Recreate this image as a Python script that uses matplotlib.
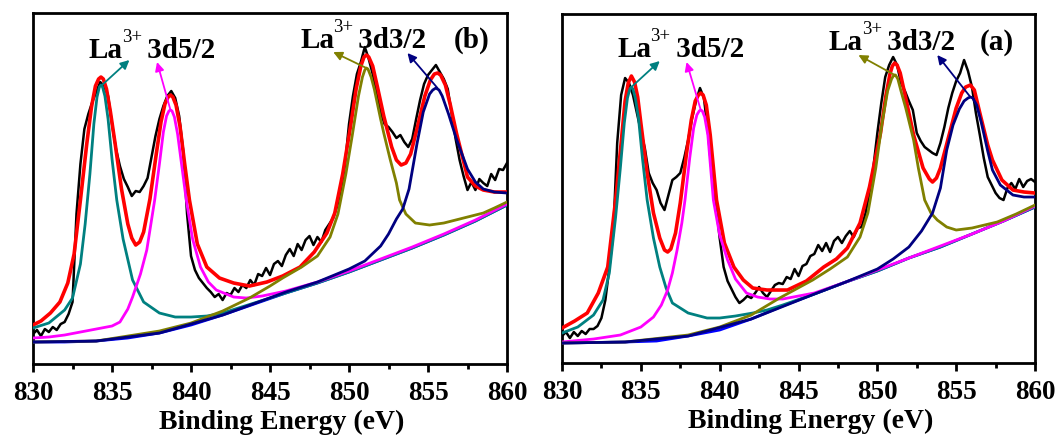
import numpy as np
import matplotlib
matplotlib.use('Agg')
import matplotlib.pyplot as plt
from matplotlib.ticker import MultipleLocator

plt.rcParams['font.family'] = 'Liberation Serif'

# measured spectrum is sampled every 0.25 eV
energy_grid = np.arange(830, 860.01, 0.25)

# ---------------- panel (b) ----------------
b_raw = [30, 34, 28, 35,  32, 37, 34, 40,  42, 50, 62, 150,  200, 235, 250, 262,
         272, 282, 278, 268,  240, 215, 198, 185,  177, 168, 173, 172,  178, 186, 207, 228,
         245, 258, 268, 273,  266, 248, 214, 150,  108, 94, 86, 81,  76, 72, 67, 70,
         64, 71, 69, 76,  72, 79, 76, 84,  79, 90, 88, 96,  89, 100, 103, 98,
         109, 115, 108, 120,  114, 124, 128, 119,  127, 122, 134, 140,  146, 158, 175, 200,
         240, 268, 290, 302,  317, 305, 290, 270,  252, 240, 237, 232,  226, 229, 222, 217,
         225, 245, 264, 280,  289, 294, 299, 292,  285, 275, 250, 225,  204, 188, 174, 182,
         174, 185, 181, 178,  190, 184, 195, 194,  201]

b_fit_x = [830, 830.5, 831.1, 831.7, 832.2, 832.6, 833.0, 833.4, 833.7, 833.95, 834.15, 834.3,
           834.45, 834.65, 834.9, 835.2, 835.6, 836.0, 836.25, 836.5, 836.75, 837.0, 837.4, 837.8,
           838.1, 838.35, 838.55, 838.7, 838.85, 839.05, 839.3, 839.6, 839.9, 840.4, 841.0, 841.8,
           842.7, 843.7, 844.8, 845.8, 846.9, 847.8, 848.6, 849.1, 849.6, 850.1, 850.45, 850.75,
           850.95, 851.1, 851.25, 851.5, 851.8, 852.2, 852.7, 853.0, 853.3, 853.6, 853.9, 854.3,
           854.8, 855.15, 855.4, 855.6, 855.8, 856.1, 856.4, 856.8, 857.5, 858.0, 858.5, 859.2, 860]
b_fit_y = [39, 43, 51, 62, 81, 110, 164, 220, 257, 278, 285, 287,
           285, 275, 252, 220, 175, 140, 126, 119, 122, 132, 165, 210,
           242, 260, 267, 269, 267, 259, 238, 200, 164, 120, 97, 86,
           81, 78, 82, 88, 97, 112, 131, 151, 190, 238, 275, 298,
           307, 309, 307, 298, 277, 248, 217, 204, 199, 201, 210, 235,
           268, 284, 290, 291, 289, 279, 260, 231, 187, 178, 174, 172, 172]

b_bg_x = [830, 832, 834, 836, 838, 840, 842, 844, 846, 848, 850, 852, 854, 856, 858, 860]
b_bg_y = [22, 22, 23, 26, 31, 39, 49, 60, 71, 81, 92, 104, 116, 129, 143, 159]

b_p1_x = [830, 831, 832, 832.5, 833, 833.3, 833.6, 833.85, 834.05, 834.2, 834.3, 834.4, 834.55,
          834.75, 835.0, 835.3, 835.7, 836.3, 837.0, 838.0, 839.0, 840.0, 841.0, 842.0, 843.0,
          844.0, 846, 848, 850, 852, 854, 856, 858, 860]
b_p1_y = [36, 41, 54, 66, 100, 140, 190, 240, 267, 277, 279, 277, 268,
          245, 205, 164, 125, 84, 62, 51, 47, 47, 48, 51, 56,
          61, 71, 81, 92, 104, 116, 129, 143, 159]

b_p2_x = [830, 831, 832, 833, 834, 835, 835.5, 836.0, 836.3, 836.8, 837.2, 837.7, 838.0, 838.25,
          838.45, 838.6, 838.7, 838.8, 838.95, 839.15, 839.4, 839.7, 840.1, 840.6, 841.1, 841.6,
          842.7, 843.5, 844.5, 846, 848, 850, 852, 854, 856, 858, 860]
b_p2_y = [26, 27, 29, 32, 35, 38, 42, 55, 67, 90, 114, 164, 200, 232,
          248, 253, 254, 253, 247, 230, 200, 164, 125, 97, 82, 74,
          67, 66, 68, 73, 82, 93, 105, 117, 130, 144, 160]

b_p3_x = [830, 834, 838, 840, 842, 843.7, 845, 845.8, 847, 848, 848.8, 849.3, 849.8, 850.2,
          850.6, 850.85, 851.0, 851.1, 851.2, 851.4, 851.6, 852.0, 852.2, 852.6, 853.0, 853.2,
          853.6, 854.2, 855.1, 856, 857, 858.5, 859.2, 860]
b_p3_y = [22, 23, 33, 41, 53, 66, 78, 86, 97, 108, 127, 150, 190, 228,
          268, 287, 294, 296, 295, 287, 275, 245, 231, 205, 181, 164,
          150, 141, 139, 141, 145, 151, 156, 162]

b_p4_x = [830, 834, 838, 842, 846, 848, 850, 851, 852, 852.5, 853.0, 853.4, 853.8, 854.3,
          854.7, 855.1, 855.3, 855.5, 855.7, 855.9, 856.3, 856.8, 857.5, 858.0, 858.5, 859.2, 860]
b_p4_y = [22, 23, 31, 49, 72, 82, 95, 103, 118, 130, 145, 155, 175, 220,
          252, 270, 274, 276, 274, 268, 250, 225, 195, 182, 175, 172, 171]

# ---------------- panel (a) ----------------
a_raw = [27, 31, 25, 31,  27, 32, 29, 34,  34, 37, 45, 63,  95, 130, 220, 268,
         285, 280, 268, 250,  232, 215, 190, 180,  173, 160, 153, 168,  183, 186, 190, 205,
         223, 245, 262, 275,  265, 232, 190, 160,  125, 96, 82, 74,  66, 60, 63, 67,
         65, 70, 76, 70,  66, 72, 78, 80,  79, 86, 84, 94,  87, 97, 99, 107,
         109, 118, 112, 120,  111, 122, 126, 120,  127, 132, 126, 135,  136, 150, 170, 196,
         230, 260, 286, 298,  306, 298, 280, 272,  262, 253, 230, 222,  216, 213, 210, 208,
         220, 236, 255, 270,  282, 290, 303, 292,  276, 250, 228, 205,  186, 178, 170, 165,
         163, 175, 180, 174,  184, 176, 182, 184,  181]

a_fit_x = [830, 830.8, 831.6, 832.3, 832.9, 833.4, 833.75, 834.0, 834.2, 834.4, 834.6, 834.8,
           835.0, 835.4, 835.8, 836.2, 836.5, 836.7, 836.9, 837.2, 837.5, 837.9, 838.2, 838.45,
           838.65, 838.8, 838.95, 839.15, 839.4, 839.8, 840.3, 840.9, 841.5, 842.1, 843.0, 844.3,
           845.5, 846.6, 847.4, 848.1, 848.9, 849.5, 850.2, 850.55, 850.8, 850.95, 851.1, 851.25,
           851.45, 851.8, 852.3, 852.9, 853.3, 853.5, 853.75, 854.0, 854.5, 855.0, 855.35, 855.6,
           855.9, 856.15, 856.5, 857.0, 857.3, 857.9, 858.6, 859.3, 860]
a_fit_y = [35, 42, 50, 70, 96, 163, 220, 262, 280, 287, 281, 266,
           240, 190, 150, 125, 113, 111, 114, 130, 160, 210, 243, 262,
           268, 270, 268, 258, 228, 163, 120, 96, 83, 75, 73, 73,
           82, 96, 104, 115, 140, 176, 230, 268, 289, 297, 300, 298,
           290, 265, 228, 195, 184, 181, 185, 195, 225, 255, 270, 276,
           278, 273, 250, 218, 203, 183, 173, 171, 170]

a_bg_x = [830, 832, 834, 836, 838, 840, 842, 844, 846, 848, 850, 852, 854, 856, 858, 860]
a_bg_y = [20, 20.5, 21, 22, 27, 33, 44, 57, 69, 81, 92, 105, 116, 129, 142, 156]

a_p1_x = [830, 831, 832, 832.6, 833.0, 833.4, 833.7, 833.95, 834.15, 834.3, 834.4, 834.5, 834.65,
          834.85, 835.1, 835.4, 835.8, 836.2, 836.6, 837.0, 838.0, 839.2, 840.0, 841.0, 842.1,
          843.0, 844, 846, 848, 850, 852, 854, 856, 858, 860]
a_p1_y = [30, 36, 48, 63, 90, 146, 195, 240, 265, 274, 276, 274, 265,
          245, 205, 163, 125, 96, 75, 60, 50, 45, 45, 47, 50,
          53, 58, 69, 81, 92, 105, 116, 129, 142, 156]

a_p2_x = [830, 832, 833.7, 835, 835.8, 836.3, 836.7, 837.0, 837.3, 837.6, 837.8, 838.1, 838.35,
          838.55, 838.7, 838.8, 838.9, 839.05, 839.25, 839.4, 839.6, 840.0, 840.5, 841.0, 841.7,
          842.4, 843.2, 844, 846, 848, 850, 852, 854, 856, 858, 860]
a_p2_y = [21, 24, 28, 36, 46, 58, 73, 90, 113, 140, 163, 205, 235,
          248, 252, 253, 252, 246, 228, 200, 163, 128, 103, 84, 70,
          66, 64, 64, 70, 81, 93, 105, 117, 129, 142, 157]

a_p3_x = [830, 834, 838, 840, 842, 843.8, 845.9, 847, 848.1, 848.9, 849.4, 849.9, 850.3,
          850.65, 850.9, 851.05, 851.15, 851.3, 851.5, 851.8, 852.3, 852.6, 853.0, 853.4, 853.8,
          854.4, 855.0, 856, 857.6, 858.8, 860]
a_p3_y = [20, 21, 28, 36, 48, 65, 83, 94, 106, 126, 150, 195, 240,
          272, 284, 288, 288, 284, 272, 255, 223, 195, 163, 150, 143,
          136, 133, 135, 141, 149, 158]

a_p4_x = [830, 834, 838, 842, 846, 848, 850, 851, 852, 852.8, 853.5, 854.0, 854.4, 854.8,
          855.2, 855.5, 855.75, 855.9, 856.05, 856.3, 856.6, 857.0, 857.3, 857.8, 858.6, 859.3, 860]
a_p4_y = [20, 21, 27, 44, 69, 81, 94, 104, 116, 132, 150, 175, 213, 238,
          254, 262, 265, 266, 265, 258, 240, 212, 193, 178, 168, 166, 166]

xticks = [830, 835, 840, 845, 850, 855, 860]


def la_label(ax, x, y, level):
    # "La" + raised "3+" + " 3dx/2", chained so the pieces sit side by side
    t1 = ax.text(x, y, 'La', fontsize=21, fontweight='bold', ha='left', va='baseline')
    t2 = ax.annotate('3+', xy=(1, y), xycoords=(t1, 'data'), xytext=(-0.5, 11.5),
                     textcoords='offset points', fontsize=13.5, ha='left', va='baseline')
    ax.annotate(' ' + level, xy=(1, y), xycoords=(t2, 'data'), xytext=(-1.5, 0),
                textcoords='offset points', fontsize=21, fontweight='bold',
                ha='left', va='baseline')


def draw_panel(ax, raw, fit_x, fit_y, bg_x, bg_y, peaks, ytop, tag, texts, arrows):
    ax.plot(energy_grid, raw, color='black', lw=1.8, zorder=3)
    ax.plot(fit_x, fit_y, color='#ff0000', lw=2.6, zorder=4)
    ax.plot(bg_x, bg_y, color='#0000ff', lw=2.0, zorder=5)
    for (px, py), c in zip(peaks, ['#008080', '#ff00ff', '#808000', '#000080']):
        ax.plot(px, py, color=c, lw=2.0, zorder=6)

    for (tx, ty, s) in texts:
        la_label(ax, tx, ty, s)
    ax.text(tag[0], tag[1], tag[2], fontsize=21, fontweight='bold', ha='left', va='baseline')
    for (tail, head, c) in arrows:
        ax.annotate('', xy=head, xytext=tail,
                    arrowprops=dict(arrowstyle='-|>', color=c, lw=1.3,
                                    mutation_scale=13, shrinkA=0, shrinkB=0),
                    zorder=7)

    ax.set_xlim(830, 860)
    ax.set_ylim(0, ytop)
    ax.set_xticks(xticks)
    ax.xaxis.set_minor_locator(MultipleLocator(2.5))
    ax.set_yticks([])
    ax.tick_params(axis='x', which='major', direction='out', length=6, width=2,
                   labelsize=19.5, pad=6)
    ax.tick_params(axis='x', which='minor', direction='out', length=3.5, width=2)
    for lab in ax.get_xticklabels():
        lab.set_fontweight('bold')
    for sp in ax.spines.values():
        sp.set_linewidth(2)
    ax.set_xlabel('Binding Energy (eV)', fontsize=20, fontweight='bold', labelpad=3)
    ax.xaxis.label.set_x(0.525)


fig = plt.figure(figsize=(10.62, 4.37), dpi=100)
ax_b = fig.add_axes([0.0311, 0.1670, 0.4463, 0.8032])
ax_a = fig.add_axes([0.5292, 0.1693, 0.4454, 0.7986])

draw_panel(ax_b, b_raw, b_fit_x, b_fit_y, b_bg_x, b_bg_y,
           [(b_p1_x, b_p1_y), (b_p2_x, b_p2_y), (b_p3_x, b_p3_y), (b_p4_x, b_p4_y)],
           351, (856.6, 316, '(b)'),
           [(833.5, 306, '3d5/2'), (846.9, 316, '3d3/2')],
           [((834.3, 278), (836.1, 304), '#008080'),
            ((838.7, 254), (837.85, 302), '#ff00ff'),
            ((851.1, 296), (849.0, 312), '#808000'),
            ((855.6, 276), (853.7, 311), '#000080')])

draw_panel(ax_a, a_raw, a_fit_x, a_fit_y, a_bg_x, a_bg_y,
           [(a_p1_x, a_p1_y), (a_p2_x, a_p2_y), (a_p3_x, a_p3_y), (a_p4_x, a_p4_y)],
           349, (856.5, 313, '(a)'),
           [(833.5, 306, '3d5/2'), (846.9, 313, '3d3/2')],
           [((834.4, 276), (836.2, 302), '#008080'),
            ((838.8, 253), (837.9, 301), '#ff00ff'),
            ((851.1, 288), (848.8, 308), '#808000'),
            ((855.9, 266), (853.8, 308), '#000080')])

fig.savefig('out.png', dpi=100)
